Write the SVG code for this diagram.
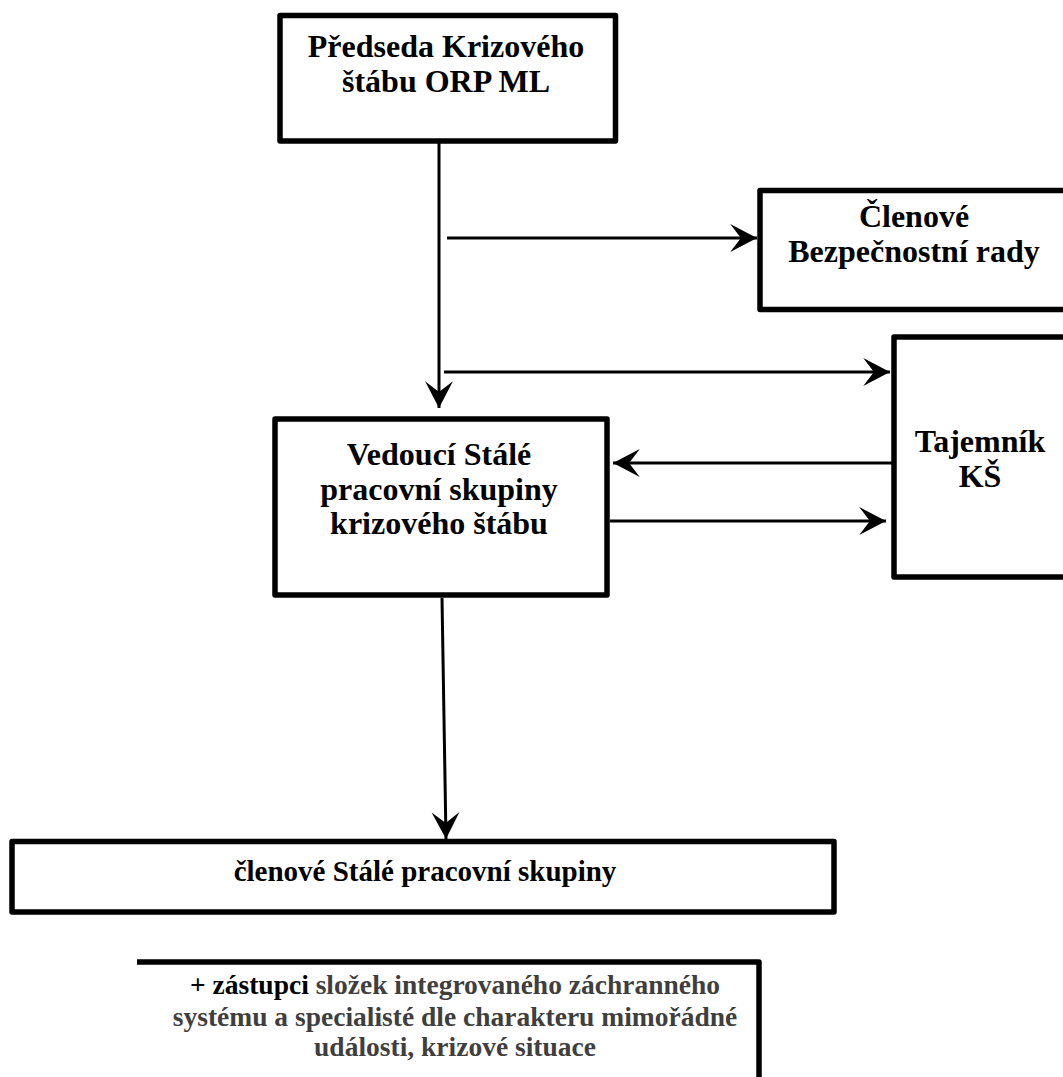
<svg xmlns="http://www.w3.org/2000/svg" width="1063" height="1077" viewBox="0 0 1063 1077">
<defs>
<style>
.box{fill:#fff;stroke:#000;stroke-width:5.5;stroke-linejoin:round}
.t{font-family:"Liberation Serif","Times New Roman",serif;font-weight:bold;fill:#000;text-anchor:middle}
.big{font-size:32px}
.mid{font-size:29px}
.sm{font-size:27.5px}
.gray{fill:#3f3f3f}
.line{stroke:#000;stroke-width:3;fill:none}
</style>
<marker id="arr" markerUnits="userSpaceOnUse" markerWidth="30" markerHeight="30" viewBox="-26 -14 28 28" refX="0" refY="0" orient="auto">
<path d="M0,0 L-25,-13 L-15,0 L-25,13 Z" fill="#000"/>
</marker>
</defs>
<rect width="1063" height="1077" fill="#fff"/>
<g id="connectors">
<line class="line" x1="439" y1="143" x2="439" y2="408" marker-end="url(#arr)"/>
<line class="line" x1="447" y1="238" x2="757" y2="238" marker-end="url(#arr)"/>
<line class="line" x1="444" y1="372" x2="890" y2="372" marker-end="url(#arr)"/>
<line class="line" x1="892" y1="463" x2="613" y2="463" marker-end="url(#arr)"/>
<line class="line" x1="610" y1="521" x2="886" y2="521" marker-end="url(#arr)"/>
<line class="line" x1="442" y1="598" x2="446" y2="839" marker-end="url(#arr)"/>
</g>
<g id="predseda">
<rect class="box" x="280" y="15.5" width="335.5" height="125.5"/>
<text class="t big" x="446" y="57">Předseda Krizového</text>
<text class="t big" x="446" y="92">štábu ORP ML</text>
</g>
<g id="clenove-br">
<rect class="box" x="760" y="190.5" width="310" height="119"/>
<text class="t big" x="914" y="227">Členové</text>
<text class="t big" x="914" y="262">Bezpečnostní rady</text>
</g>
<g id="tajemnik">
<rect class="box" x="894" y="337" width="175" height="240"/>
<text class="t big" x="980" y="452">Tajemník</text>
<text class="t big" x="980" y="487">KŠ</text>
</g>
<g id="vedouci">
<rect class="box" x="275" y="419" width="332" height="176"/>
<text class="t big" x="439" y="465">Vedoucí Stálé</text>
<text class="t big" x="439" y="500">pracovní skupiny</text>
<text class="t big" x="439" y="534">krizového štábu</text>
</g>
<g id="clenove-sps">
<rect class="box" x="12" y="841.5" width="822" height="70.5"/>
<text class="t mid" x="425" y="881">členové Stálé pracovní skupiny</text>
</g>
<g id="zastupci">
<path class="box" d="M137,962 H759 V1080"/>
<text class="t sm" x="455" y="994"><tspan fill="#000">+ zástupci</tspan> <tspan class="gray">složek integrovaného záchranného</tspan></text>
<text class="t sm gray" x="455" y="1026">systému a specialisté dle charakteru mimořádné</text>
<text class="t sm gray" x="455" y="1056">události, krizové situace</text>
</g>
</svg>
